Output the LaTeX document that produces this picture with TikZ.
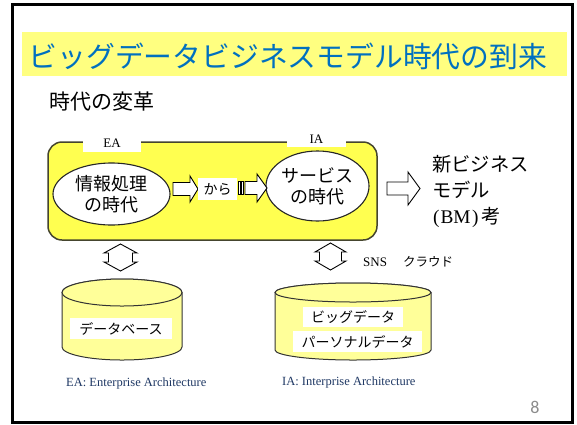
\documentclass[tikz,border=0pt]{standalone}
\usepackage{fontspec}
\setmainfont{Noto Sans CJK JP}
\newfontfamily\tnr{Liberation Serif}
\newfontfamily\carl{Carlito}
\usetikzlibrary{shapes.geometric}
\definecolor{titleblue}{HTML}{0070C0}
\definecolor{bandyellow}{HTML}{FFFF80}
\definecolor{panelyellow}{HTML}{FFFF50}
\definecolor{cylyellow}{HTML}{FFFF99}
\definecolor{panelborder}{HTML}{45452E}
\definecolor{captionblue}{HTML}{1F3864}
\definecolor{pagegray}{HTML}{8C8C8C}
\begin{document}
\begin{tikzpicture}[x=1pt,y=-1pt,
  panel/.style={draw=panelborder, fill=panelyellow, line width=1.5pt, rounded corners=14pt, inner sep=0pt},
  whitebox/.style={fill=white, draw=none, inner sep=0pt},
  bubble/.style={ellipse, draw=black!85, fill=white, line width=1.1pt, inner sep=0pt, align=center, font=\fontsize{18}{21}\selectfont},
  blockarrow/.style={draw=black, fill=white, line width=0.9pt, line join=miter},
  cyl/.style={draw=black!80, fill=cylyellow, line width=1pt},
  latinlabel/.style={font=\tnr\fontsize{13}{15}\selectfont, inner sep=0pt},
  caption/.style={font=\tnr\fontsize{12.5}{14}\selectfont, text=captionblue, inner sep=0pt, anchor=west}
]
\useasboundingbox (0,0) rectangle (577,424);
\fill[white] (0,0) rectangle (577,424);
\draw[line width=3pt] (12.5,4.5) rectangle (572.5,422.5);

% title
\fill[bandyellow] (22,32) rectangle (567,76);
\node[anchor=west, text=titleblue, font=\fontsize{28.8}{30}\selectfont, inner sep=0pt] (title) at (28.5,56) {ビッグデータビジネスモデル時代の到来};
\node[anchor=west, font=\fontsize{21}{24}\selectfont, inner sep=0pt] (heading) at (49,101.5) {時代の変革};

% panel
\node[panel, minimum width=329pt, minimum height=98pt] (panel) at (212.5,191) {};
\node[whitebox, minimum width=58pt, minimum height=17pt, font=\tnr\fontsize{13}{15}\selectfont] (ea) at (112,143.5) {EA};
\node[whitebox, minimum width=59pt, minimum height=15pt, font=\tnr\fontsize{13}{15}\selectfont] (ia) at (316.5,139.5) {IA};

\node[bubble, minimum width=117pt, minimum height=62pt] (e1) at (111.5,194) {情報処理\\の時代};
\node[bubble, minimum width=103pt, minimum height=70pt] (e2) at (317.5,186) {サービス\\の時代};

% arrow 1
\draw[blockarrow] (173,182.5) -- (190,182.5) -- (190,176) -- (198,189) -- (190,202) -- (190,195.5) -- (173,195.5) -- cycle;
\node[whitebox, minimum width=39pt, minimum height=22pt, font=\fontsize{14}{16}\selectfont] (kara) at (217.5,189) {から};
% arrow 2 (striped)
\draw[blockarrow] (238,181.5) rectangle (240.3,194.5);
\draw[blockarrow] (241.8,181.5) rectangle (243.5,194.5);
\draw[blockarrow] (245,181.5) -- (257,181.5) -- (257,174) -- (267,188) -- (257,202) -- (257,194.5) -- (245,194.5) -- cycle;
% arrow 3
\draw[blockarrow] (387,182) -- (408,182) -- (408,172) -- (420,188.5) -- (408,205) -- (408,195) -- (387,195) -- cycle;

\node[anchor=west, inner sep=0pt, align=left, font=\fontsize{19.3}{26}\selectfont] (newbm) at (432,191) {新ビジネス\\モデル\\{\tnr\kern1pt(\kern1pt BM\kern1.5pt)}\kern3pt考};

% vertical double arrows
\draw[blockarrow] (120.5,244) -- (137,253) -- (132.5,253) -- (132.5,262) -- (137,262) -- (120.5,271) -- (104,262) -- (108.5,262) -- (108.5,253) -- (104,253) -- cycle;
\draw[blockarrow] (330.5,243) -- (346,252) -- (341.5,252) -- (341.5,261) -- (346,261) -- (330.5,270) -- (315,261) -- (319.5,261) -- (319.5,252) -- (315,252) -- cycle;

\node[latinlabel, anchor=west] (sns) at (363,262) {SNS};
\node[anchor=west, inner sep=0pt, font=\fontsize{12.5}{14}\selectfont] (cloud) at (403,262) {クラウド};

% cylinder 1
\draw[cyl] (62,292.5) -- (62,347) arc[start angle=180, end angle=0, x radius=60, y radius=13] -- (182,292.5) arc[start angle=360, end angle=180, x radius=60, y radius=13.5] -- cycle;
\draw[cyl] (122,292.5) ellipse [x radius=60, y radius=13.5];
\node[whitebox, minimum width=102pt, minimum height=21pt, font=\fontsize{14}{16}\selectfont] (db) at (121,328.5) {データベース};

% cylinder 2
\draw[cyl] (275,292.5) -- (275,350) arc[start angle=180, end angle=0, x radius=78, y radius=10] -- (431,292.5) arc[start angle=360, end angle=180, x radius=78, y radius=9.5] -- cycle;
\draw[cyl] (353,292.5) ellipse [x radius=78, y radius=9.5];
\node[whitebox, minimum width=100pt, minimum height=20pt, font=\fontsize{14}{16}\selectfont] (bigdata) at (353,317) {ビッグデータ};
\node[whitebox, minimum width=129pt, minimum height=21pt, font=\fontsize{14}{16}\selectfont] (personal) at (357.5,341.5) {パーソナルデータ};

% captions
\node[caption] (capea) at (66,383) {EA: Enterprise Architecture};
\node[caption] (capia) at (282,382) {IA: Interprise Architecture};
\node[inner sep=0pt, font=\carl\fontsize{18}{20}\selectfont, text=pagegray] (page) at (535,407) {8};
\end{tikzpicture}
\end{document}
